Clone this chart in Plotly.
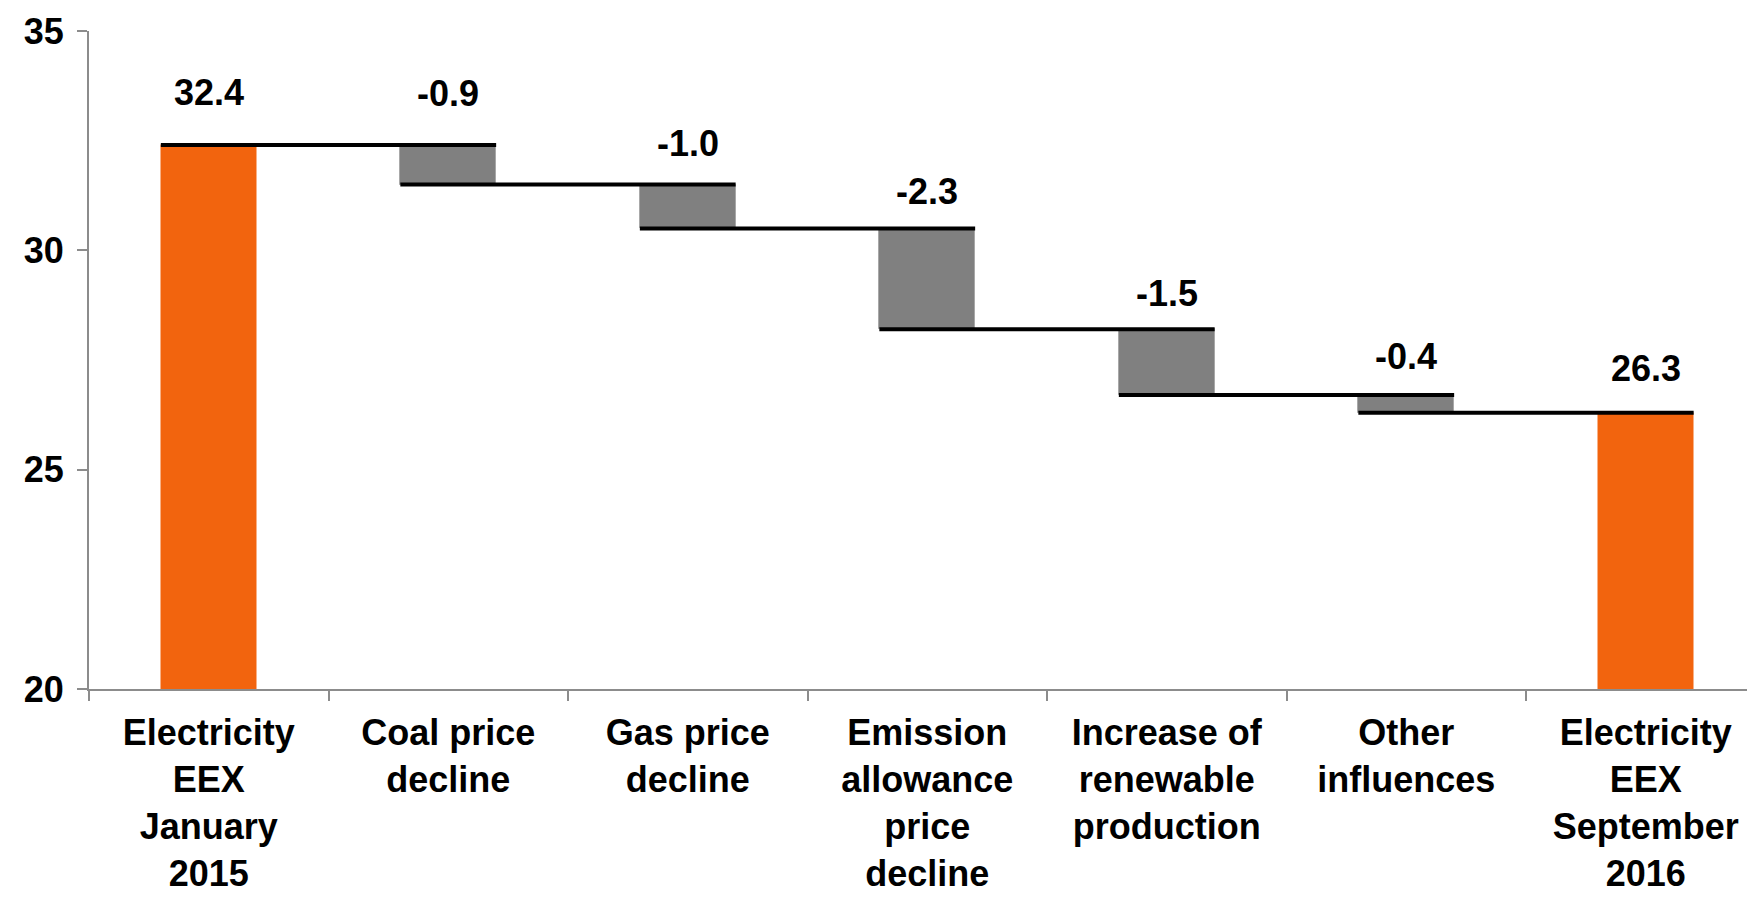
import plotly.graph_objects as go

# Price bridge: EEX electricity base price, January 2015 -> September 2016 (EUR/MWh)
categories = [
    "Electricity<br>EEX<br>January<br>2015",
    "Coal price<br>decline",
    "Gas price<br>decline",
    "Emission<br>allowance<br>price<br>decline",
    "Increase of<br>renewable<br>production",
    "Other<br>influences",
    "Electricity<br>EEX<br>September<br>2016",
]
start_value = 32.4
changes = [-0.9, -1.0, -2.3, -1.5, -0.4]
end_value = 26.3
y_ticks = [20, 25, 30, 35]

# label lift above each bar top, in pixels
label_lift = [53, 52, 41, 37, 36, 39, 44]

ORANGE = "#F2640E"
GREY = "#808080"
AXIS_GREY = "#8C8C8C"
FONT = "Liberation Sans, Arial, sans-serif"
BAR_W = 0.4

n = len(categories)
xs = list(range(n))

# running levels after each step
levels = [start_value]
for c in changes:
    levels.append(round(levels[-1] + c, 2))

# bar geometry (base + signed height)
bases = [0] + levels[:-1] + [0]
heights = [start_value] + changes + [end_value]
colors = [ORANGE] + [GREY] * len(changes) + [ORANGE]
edge_colors = ["rgba(0,0,0,0)"] + ["#A8A8A8"] * len(changes) + ["rgba(0,0,0,0)"]
tops = [max(b, b + h) for b, h in zip(bases, heights)]
labels = [f"{start_value:.1f}"] + [f"{c:.1f}" for c in changes] + [f"{end_value:.1f}"]

fig = go.Figure()
fig.add_trace(go.Bar(
    x=xs, y=heights, base=bases, width=BAR_W,
    marker=dict(color=colors, line=dict(color=edge_colors, width=1)),
    hoverinfo="skip", showlegend=False,
))

# connectors: from left edge of bar i to right edge of bar i+1 at running level
cx, cy = [], []
for i in range(n - 1):
    lvl = levels[i]
    cx += [i - BAR_W / 2, i + 1 + BAR_W / 2, None]
    cy += [lvl, lvl, None]
fig.add_trace(go.Scatter(
    x=cx, y=cy, mode="lines", line=dict(color="black", width=4),
    hoverinfo="skip", showlegend=False,
))

for i in range(n):
    fig.add_annotation(
        x=xs[i], y=tops[i], text=f"<b>{labels[i]}</b>", showarrow=False,
        yanchor="middle", yshift=label_lift[i],
        font=dict(family=FONT, size=36, color="black"),
    )

fig.update_layout(
    width=1747, height=900,
    margin=dict(l=89, r=0, t=31, b=211, autoexpand=False),
    paper_bgcolor="white", plot_bgcolor="white",
    bargap=0,
    font=dict(family=FONT, color="black"),
)
fig.update_xaxes(
    range=[-0.5, -0.5 + (1747 - 89) / 239.5],
    tickmode="array", tickvals=xs, ticktext=[f"<b>{c}</b>" for c in categories],
    ticks="", showgrid=False, zeroline=False, automargin=False,
    ticklabelstandoff=11,
    showline=True, linecolor=AXIS_GREY, linewidth=2,
    tickfont=dict(family=FONT, size=36, color="black"),
    minor=dict(tickmode="array", tickvals=[i - 0.5 for i in range(n + 1)],
               ticks="outside", ticklen=10, tickwidth=2, tickcolor=AXIS_GREY, showgrid=False),
)
fig.update_yaxes(
    range=[20, 35], tickmode="array", tickvals=y_ticks,
    ticktext=[f"<b>{t}</b>" for t in y_ticks],
    ticks="outside", ticklen=10, tickwidth=2, tickcolor=AXIS_GREY,
    ticklabelstandoff=6,
    showline=True, linecolor=AXIS_GREY, linewidth=2,
    showgrid=False, zeroline=False, automargin=False,
    tickfont=dict(family=FONT, size=36, color="black"),
)

fig.write_html("out.html")
